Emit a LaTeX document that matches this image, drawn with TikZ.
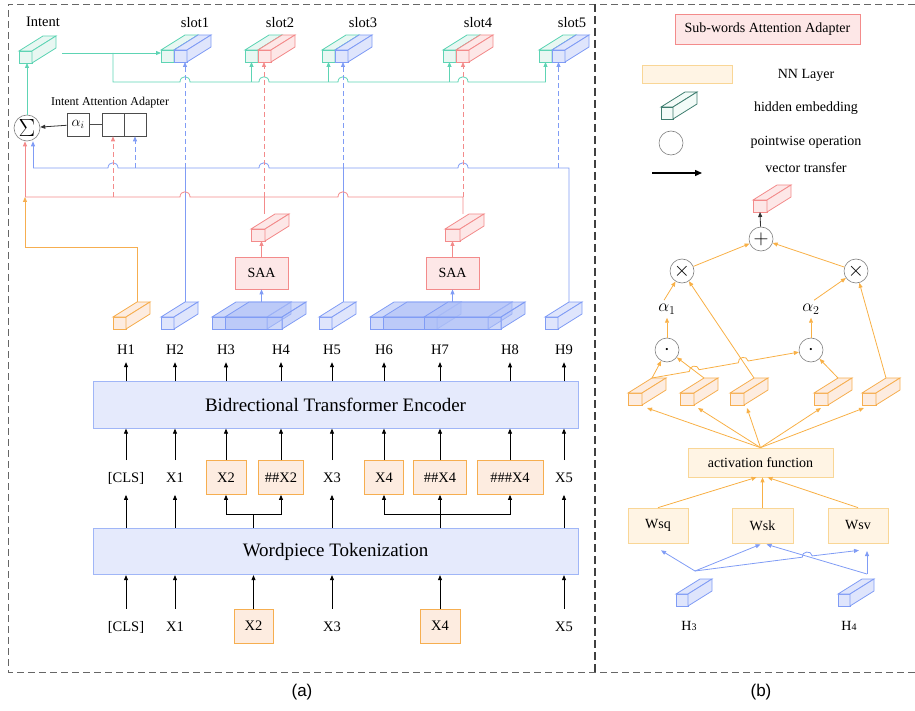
\documentclass[tikz,border=0pt]{standalone}
\usepackage{fontspec}
\setmainfont{Liberation Serif}
\newfontfamily\capfont{Liberation Sans}
\usetikzlibrary{arrows.meta,positioning,calc}

\definecolor{tealc}{RGB}{94,212,180}
\definecolor{tealf}{RGB}{232,247,242}
\definecolor{bluec}{RGB}{128,156,245}
\definecolor{bluef}{RGB}{223,229,252}
\definecolor{slabf}{RGB}{175,192,247}
\definecolor{boxf}{RGB}{229,234,252}
\definecolor{boxc}{RGB}{160,182,247}
\definecolor{redc}{RGB}{243,139,139}
\definecolor{redf}{RGB}{253,231,231}
\definecolor{orac}{RGB}{246,174,80}
\definecolor{oraf}{RGB}{253,236,224}
\definecolor{nnc}{RGB}{249,214,150}
\definecolor{nnf}{RGB}{255,244,228}
\definecolor{darkteal}{RGB}{62,125,111}
\definecolor{ornline}{RGB}{248,176,70}

% cube: [opts]{name}{x}{y}{front width}{line}{fill}
\newcommand{\hcube}[7][]{%
  \begin{scope}[shift={(#3,#4)},#1]
    \filldraw[draw=#6,fill=#7] (0,0) rectangle (#5,12);
    \filldraw[draw=#6,fill=#7] (0,0) -- (24,-15) -- (#5+24,-15) -- (#5,0) -- cycle;
    \filldraw[draw=#6,fill=#7] (#5,0) -- (#5+24,-15) -- (#5+24,-3) -- (#5,12) -- cycle;
    \coordinate (#2-bot) at (#5/2,12);
    \coordinate (#2-bl) at (24,-15);
    \coordinate (#2-left) at (0,6);
  \end{scope}}

\tikzset{
  ahead/.style={-{Triangle[length=5pt,width=4pt]}},
  lbl/.style={inner sep=0pt, font=\fontsize{14.5}{16}\selectfont},
  legtxt/.style={inner sep=0pt, font=\fontsize{14}{16}\selectfont},
  capt/.style={font=\capfont\fontsize{17}{20}\selectfont},
  bigbox/.style={draw=boxc, fill=boxf, line width=0.8pt, minimum width=485pt, minimum height=46.5pt, font=\fontsize{19}{22}\selectfont},
  tokbox/.style={draw=orac, fill=oraf, line width=0.8pt, minimum height=34pt, inner sep=0pt, font=\fontsize{14.5}{16}\selectfont},
  saabox/.style={draw=redc, fill=redf, line width=0.7pt, inner sep=0pt, font=\fontsize{14}{16}\selectfont},
  nnbox/.style={draw=nnc, fill=nnf, line width=0.7pt, inner sep=0pt, font=\fontsize{14}{16}\selectfont},
  opnode/.style={circle, draw=gray, line width=0.6pt, minimum size=24pt, inner sep=0pt},
  adcell/.style={draw=black!70, line width=0.6pt, minimum width=22pt, minimum height=23pt, inner sep=0pt, font=\fontsize{14}{16}\selectfont},
  hop/.style args={#1/#2}{insert path={-- (#1-5,#2) .. controls (#1-5,#2-7) and (#1+5,#2-7) .. (#1+5,#2)}},
  dsh/.style={dash pattern=on 5pt off 3pt},
}

\begin{document}
\begin{tikzpicture}[x=1pt,y=-1pt,line width=0.8pt]
\useasboundingbox (0,0) rectangle (915,711);

% frames
\draw[black!60,line width=0.9pt,dash pattern=on 7pt off 4pt] (915,4) -- (8,4) -- (8,672) -- (915,672);
\draw[black!75,line width=1.2pt,dash pattern=on 8pt off 4pt] (595,4) -- (595,672);
\node[capt] (capa) at (302,692) {(a)};
\node[capt] (capb) at (761,692) {(b)};

% ---------- (a) ----------
% input words
\node[lbl] (in0) at (126,627) {[CLS]};
\node[lbl] (in1) at (175,627) {X1};
\node[tokbox,minimum width=39pt] (in2) at (253.5,626) {X2};
\node[lbl] (in3) at (332,627) {X3};
\node[tokbox,minimum width=40pt] (in4) at (440,626) {X4};
\node[lbl] (in5) at (564,627) {X5};

\node[bigbox] (wp) at (335.5,551.5) {Wordpiece Tokenization};

% sub-word tokens
\node[lbl] (t1) at (126,478) {[CLS]};
\node[lbl] (t2) at (175,478) {X1};
\node[tokbox,minimum width=40pt] (t3) at (226,477.5) {X2};
\node[tokbox,minimum width=45pt] (t4) at (281,477.5) {\#\#X2};
\node[lbl] (t5) at (332,478) {X3};
\node[tokbox,minimum width=39pt] (t6) at (384,477.5) {X4};
\node[tokbox,minimum width=53pt] (t7) at (440,477.5) {\#\#X4};
\node[tokbox,minimum width=66pt] (t8) at (510,477.5) {\#\#\#X4};
\node[lbl] (t9) at (564,478) {X5};

\node[bigbox] (bte) at (335.5,405) {Bidrectional Transformer Encoder};

\foreach \i in {1,...,9}
  \node[lbl] (h\i) at (t\i |- 0,350) {H\i};

% black arrows
\foreach \i in {0,...,5}
  \draw[ahead] (in\i |- in2.north) -- (in\i |- wp.south);
\foreach \i in {1,2,5,9}
  \draw[ahead] (t\i |- wp.north) -- (t\i |- t3.south);
\coordinate (br1) at (253.5,514);
\coordinate (br2) at (440,514);
\draw (wp.north -| br1) -- (br1);
\draw[ahead] (br1) -| (t3.south);
\draw[ahead] (br1) -| (t4.south);
\draw[ahead] (wp.north -| br2) -- (t7.south);
\draw[ahead] (br2) -| (t6.south);
\draw[ahead] (br2) -| (t8.south);
\foreach \i in {1,...,9}
  \draw[ahead] (t\i |- t3.north) -- (t\i |- bte.south);
\foreach \i in {1,...,9}
  \draw[ahead] (h\i |- bte.north) -- ([yshift=-7pt]h\i.south);

% hidden states
\hcube{c1}{113}{317}{13}{orac}{oraf}
\hcube{c2}{161}{317}{13}{bluec}{bluef}
\hcube[fill opacity=.6]{c3}{212}{317}{55}{bluec}{slabf}
\hcube[fill opacity=.6]{c4}{225}{317}{57}{bluec}{slabf}
\hcube{c5}{319}{317}{13}{bluec}{bluef}
\hcube[fill opacity=.6]{c6}{370}{317}{67}{bluec}{slabf}
\hcube[fill opacity=.6]{c7}{383}{317}{105}{bluec}{slabf}
\hcube[fill opacity=.6]{c8}{424}{317}{77}{bluec}{slabf}
\hcube{c9}{545}{317}{13}{bluec}{bluef}

% sub-words attention adapters
\node[saabox,minimum width=53pt,minimum height=32pt] (saa1) at (261.5,273) {SAA};
\node[saabox,minimum width=53pt,minimum height=32pt] (saa2) at (452.5,273) {SAA};
\hcube{r1}{251}{229}{14}{redc}{redf}
\hcube{r2}{445}{229}{15}{redc}{redf}
\draw[ahead,bluec] (saa1.south |- c4-bl) -- (saa1.south);
\draw[ahead,bluec] (saa2.south |- c7-bl) -- (saa2.south);
\draw[ahead,redc] (saa1.north) -- (saa1.north |- r1-bot);
\draw[ahead,redc] (saa2.north) -- (saa2.north |- r2-bot);

% intent and slots
\hcube{ic}{19}{51}{13}{tealc}{tealf}
\node[lbl] (lint) at (43,22) {Intent};
\hcube{s1a}{161}{50}{13}{tealc}{tealf}
\hcube{s1b}{174}{50}{13}{bluec}{bluef}
\hcube{s2a}{245}{50}{13}{tealc}{tealf}
\hcube{s2b}{258}{50}{13}{redc}{redf}
\hcube{s3a}{322}{50}{13}{tealc}{tealf}
\hcube{s3b}{335}{50}{13}{bluec}{bluef}
\hcube{s4a}{443}{50}{13}{tealc}{tealf}
\hcube{s4b}{456}{50}{13}{redc}{redf}
\hcube{s5a}{539}{50}{13}{tealc}{tealf}
\hcube{s5b}{552}{50}{13}{bluec}{bluef}
\node[lbl] (ls1) at (195,23) {slot1};
\node[lbl] (ls2) at (280,23) {slot2};
\node[lbl] (ls3) at (363,23) {slot3};
\node[lbl] (ls4) at (478,23) {slot4};
\node[lbl] (ls5) at (572,23) {slot5};

% intent attention adapter
\node[opnode,minimum size=26pt,font=\fontsize{26}{26}\selectfont] (sig) at (27,128) {$\Sigma$};
\node[adcell] (al) at (78,124.5) {$\alpha_i$};
\node[adcell] (cr) at (113,124.5) {};
\node[adcell] (cb) at (135,124.5) {};
\node[font=\fontsize{12}{14}\selectfont] (iaa) at (110,103) {Intent Attention Adapter};
\draw[black!70] (cr) -- (al);
\draw[ahead,black!80] (al) -- (sig);

% buses
\coordinate (iout) at (62,53);
\coordinate (tj) at (113,53);
\coordinate (tbus) at (113,82);
\coordinate (bbus) at (33,168);
\coordinate (rbus) at (25,197);
\coordinate (obend) at (25,247);
\coordinate (bcorner) at (c9-bl |- bbus);
\coordinate (rc1) at (264,197);
\coordinate (rc2) at (463,197);

% teal
\draw[ahead,tealc] (sig.north) -- (sig.north |- ic-bot);
\draw[ahead,tealc] (iout) -- (iout -| s1a-left);
\draw[ahead,tealc] (tj) -- (tbus) [hop=185/82] [hop=264/82] [hop=343/82] [hop=463/82] -- (s5a-bot |- tbus) -- (s5a-bot);
\foreach \s in {s2a,s3a,s4a}
  \draw[ahead,tealc] (\s-bot |- tbus) -- (\s-bot);

% blue
\draw[ahead,bluec] (bbus) -- (bbus |- sig.south);
\draw[bluec] (bbus) [hop=113/168] [hop=264/168] [hop=463/168] -- (bcorner) -- (c9-bl);
\draw[bluec] (c2-bl) -- (c2-bl |- bbus);
\draw[bluec] (c5-bl) -- (c5-bl |- bbus);
\draw[ahead,bluec,dsh] (c2-bl |- bbus) -- (c2-bl |- s1b-bot);
\draw[ahead,bluec,dsh] (c5-bl |- bbus) -- (c5-bl |- s3b-bot);
\draw[ahead,bluec,dsh] (s5b-bot |- bbus) -- (s5b-bot);
\draw[ahead,bluec,dsh] (cb.south |- bbus) -- (cb.south);

% red
\draw[ahead,redc] (rbus) -- (rbus |- sig.south);
\draw[redc] (rbus) [hop=185/197] [hop=343/197] -- (rc2) -- (rc2 |- r2-bl);
\draw[redc] (rc1) -- (rc1 |- r1-bl);
\draw[ahead,redc,dsh] (rc1) -- (rc1 |- s2b-bot);
\draw[ahead,redc,dsh] (rc2) -- (rc2 |- s4b-bot);
\draw[ahead,redc,dsh] (cr.south |- rbus) -- (cr.south);

% orange (CLS)
\draw[ahead,orac] (c1-bl) |- (obend) -- (rbus);

% ---------- (b) ----------
% legend
\node[saabox,minimum width=185pt,minimum height=30pt] (lsaa) at (767.5,29) {Sub-words Attention Adapter};
\node[nnbox,minimum width=90pt,minimum height=18pt] (lnn) at (687,74) {};
\node[legtxt] (tnn) at (806,75) {NN Layer};
\hcube{lc}{661}{107}{12}{darkteal}{tealf!50}
\node[legtxt] (the) at (806,108) {hidden embedding};
\node[opnode] (lop) at (671,143) {};
\node[legtxt] (tpw) at (806,142) {pointwise operation};
\coordinate (la0) at (652,173);
\coordinate (la1) at (702,173);
\draw[line width=1.3pt,-{Triangle[length=7pt,width=6pt]}] (la0) -- (la1);
\node[legtxt] (tvt) at (806,168) {vector transfer};

% adapter detail
\hcube{rout}{753}{200}{14}{redc}{redf}
\node[opnode,font=\fontsize{22}{22}\selectfont] (plus) at (761,239) {$+$};
\node[opnode,font=\fontsize{22}{22}\selectfont] (m1) at (682,271) {$\times$};
\node[opnode,font=\fontsize{22}{22}\selectfont] (m2) at (856,271) {$\times$};
\node[opnode,font=\fontsize{9}{9}\selectfont] (d1) at (667,350) {\textbullet};
\node[opnode,font=\fontsize{9}{9}\selectfont] (d2) at (811,350) {\textbullet};
\node[font=\fontsize{18}{18}\selectfont] (a1) at (667,309) {$\alpha_1$};
\node[font=\fontsize{18}{18}\selectfont] (a2) at (811,309) {$\alpha_2$};

\hcube{oc1}{628}{393}{14}{orac}{oraf}
\hcube{oc2}{680}{393}{14}{orac}{oraf}
\hcube{oc3}{730}{393}{14}{orac}{oraf}
\hcube{oc4}{814}{393}{14}{orac}{oraf}
\hcube{oc5}{862}{393}{14}{orac}{oraf}

\node[nnbox,minimum width=145pt,minimum height=29pt] (act) at (760.5,462.5) {activation function};
\node[nnbox,minimum width=60pt,minimum height=35pt] (wsq) at (658,525.5) {Wsq};
\node[nnbox,minimum width=61pt,minimum height=35pt] (wsk) at (762.5,525.5) {Wsk};
\node[nnbox,minimum width=60pt,minimum height=35pt] (wsv) at (858,525.5) {Wsv};

\hcube{hb3}{676}{594}{12}{bluec}{bluef}
\hcube{hb4}{838}{594}{12}{bluec}{bluef}
\node[legtxt] (lh3) at (689,626) {H{\fontsize{10}{10}\selectfont 3}};
\node[legtxt] (lh4) at (849,626) {H{\fontsize{10}{10}\selectfont 4}};
\coordinate (hs3) at (695,571);
\coordinate (hs4) at (867,574);

% blue inputs
\draw[ahead,bluec] (hs3) -- ([shift={(3pt,-7pt)}]wsq.south);
\draw[ahead,bluec] (hs3) -- ([shift={(-2pt,-1pt)}]wsk.south);
\draw[ahead,bluec] (hs3) -- (802.2,557.2) .. controls (801.4,551.2) and (811.4,549.9) .. (812.2,555.9) -- ([shift={(1pt,-7pt)}]wsv.south);
\draw[ahead,bluec] (hs4) -- ([shift={(4pt,-1pt)}]wsk.south);
\draw[ahead,bluec] (hs4) -- (hs4 |- 0,551);

% orange flow
\draw[ahead,ornline] (wsq.north) -- ([xshift=-4pt]act.south);
\draw[ahead,ornline] (wsk.north) -- (wsk.north |- act.south);
\draw[ahead,ornline] (wsv.north) -- ([xshift=7pt]act.south);
\foreach \c/\d in {oc1/12,oc2/11,oc3/10,oc4/0,oc5/-5}
  \draw[ahead,ornline] (act.north) -- ([shift={(\d pt,-3pt)}]\c-bot);
\draw[ahead,ornline] (oc1-bl) -- (d1);
\draw[ahead,ornline] (oc2-bl) -- (d1);
\draw[ahead,ornline] (oc1-bl) -- (689.3,371.5) .. controls (688.3,365.6) and (698.1,363.8) .. (699.1,369.7)
  -- (738.3,362.8) .. controls (737.3,356.9) and (747.1,355.1) .. (748.1,361.0) -- (d2);
\draw[ahead,ornline] (oc3-bl) -- (m1);
\draw[ahead,ornline] (oc4-bl) -- (d2);
\draw[ahead,ornline] (oc5-bl) -- (m2);
\draw[ahead,ornline] (d1) -- (a1);
\draw[ahead,ornline] (d2) -- (a2);
\draw[ahead,ornline] ([xshift=-3pt]a1.north) -- (m1);
\draw[ahead,ornline] ([xshift=3pt]a2.north) -- (m2);
\draw[ahead,ornline] (m1) -- (plus);
\draw[ahead,ornline] (m2) -- (plus);
\draw[ahead,black!80] (plus) -- (rout-bot);
\end{tikzpicture}
\end{document}
